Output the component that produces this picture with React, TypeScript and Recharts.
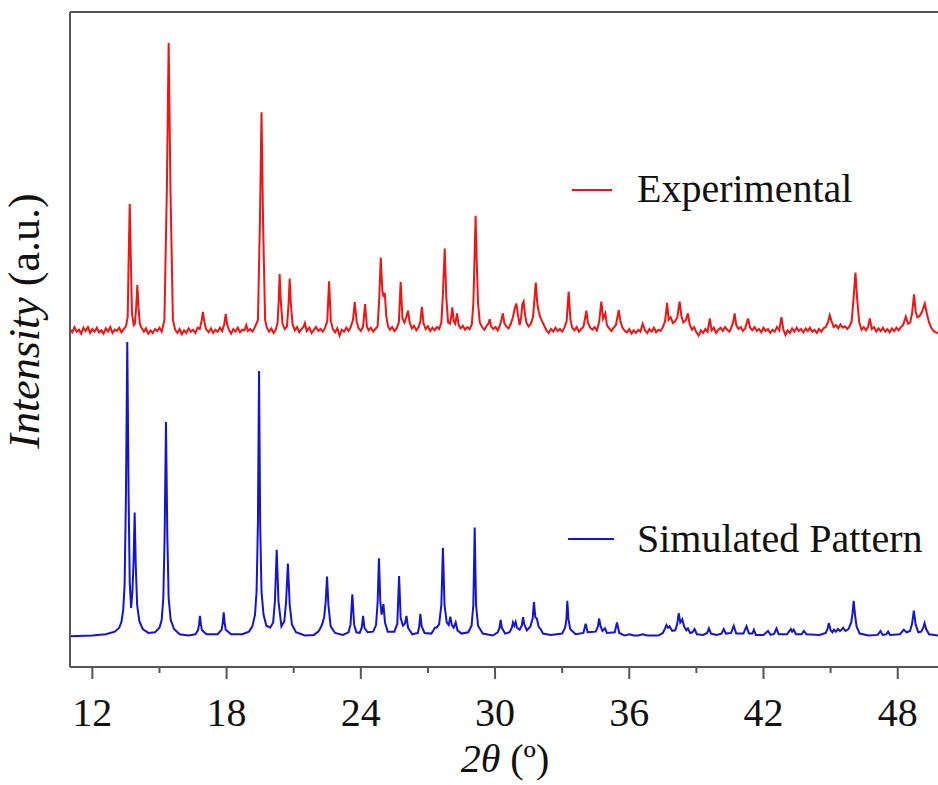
import { LineChart, Line, XAxis, YAxis, ReferenceLine } from "recharts";

// 2θ (deg), intensity (a.u., offset so both patterns share one axis)
const EXPERIMENTAL: [number, number][] = [
  [11.0, 51.6], [11.1, 51.1], [11.2, 51.9], [11.3, 51.2], [11.4, 51.5], [11.5, 50.9], [11.6, 51.8], [11.7, 51.3],
  [11.8, 51.9], [11.9, 51.0], [12.0, 51.6], [12.1, 51.2], [12.2, 51.8], [12.3, 51.1], [12.4, 51.4], [12.5, 50.9],
  [12.6, 51.7], [12.7, 51.2], [12.8, 51.9], [12.9, 51.0], [13.0, 51.5], [13.1, 51.3], [13.2, 51.8], [13.3, 51.1],
  [13.4, 51.6], [13.5, 52.0], [13.58, 53.5], [13.62, 62.0], [13.67, 70.7], [13.72, 62.0], [13.77, 54.0],
  [13.85, 52.2], [13.9, 52.4], [13.96, 55.0], [14.01, 58.3], [14.06, 55.0], [14.12, 52.4], [14.2, 51.8],
  [14.3, 51.2], [14.4, 51.7], [14.5, 50.9], [14.6, 51.4], [14.7, 51.0], [14.8, 51.6], [14.9, 51.3], [15.0, 51.8],
  [15.1, 51.2], [15.22, 53.0], [15.33, 73.0], [15.41, 95.3], [15.49, 73.0], [15.6, 53.0], [15.7, 51.5],
  [15.8, 51.0], [15.9, 51.6], [16.0, 50.8], [16.1, 51.4], [16.2, 51.0], [16.3, 51.7], [16.4, 51.2], [16.5, 51.5],
  [16.6, 51.0], [16.7, 51.8], [16.8, 51.6], [16.88, 52.8], [16.94, 54.2], [17.0, 52.8], [17.08, 51.6],
  [17.2, 51.1], [17.3, 51.7], [17.4, 51.0], [17.5, 51.5], [17.6, 51.2], [17.7, 51.8], [17.8, 51.3], [17.9, 52.4],
  [17.96, 53.9], [18.02, 52.4], [18.1, 51.5], [18.2, 50.9], [18.3, 51.6], [18.4, 51.2], [18.5, 51.8],
  [18.6, 51.1], [18.7, 51.5], [18.8, 51.4], [18.88, 52.2], [18.95, 51.3], [19.05, 51.6], [19.15, 51.2],
  [19.25, 51.8], [19.33, 52.4], [19.4, 53.0], [19.49, 68.0], [19.56, 84.7], [19.63, 68.0], [19.72, 53.0],
  [19.8, 51.8], [19.9, 51.2], [20.0, 51.7], [20.1, 51.0], [20.2, 51.5], [20.28, 52.6], [20.33, 56.0],
  [20.37, 60.0], [20.42, 56.0], [20.5, 52.4], [20.6, 51.6], [20.7, 52.0], [20.77, 55.5], [20.82, 59.3],
  [20.87, 55.5], [20.95, 52.3], [21.05, 51.4], [21.15, 51.9], [21.25, 51.1], [21.35, 51.6], [21.45, 52.0],
  [21.5, 52.5], [21.58, 51.3], [21.7, 51.8], [21.8, 51.0], [21.9, 51.5], [22.0, 51.9], [22.1, 51.3],
  [22.2, 51.6], [22.3, 51.2], [22.4, 51.8], [22.5, 52.8], [22.58, 58.9], [22.66, 52.8], [22.75, 51.6],
  [22.85, 51.1], [22.95, 51.7], [23.05, 50.6], [23.15, 51.5], [23.25, 51.2], [23.35, 51.8], [23.45, 51.3],
  [23.55, 51.9], [23.65, 53.0], [23.73, 55.7], [23.81, 52.8], [23.9, 51.7], [24.0, 51.3], [24.1, 52.0],
  [24.19, 55.4], [24.27, 52.0], [24.35, 51.4], [24.45, 51.8], [24.55, 51.2], [24.65, 51.6], [24.75, 52.0],
  [24.82, 56.0], [24.89, 62.5], [24.96, 57.5], [25.02, 56.5], [25.07, 57.1], [25.14, 53.5], [25.22, 52.0],
  [25.3, 51.5], [25.4, 51.9], [25.5, 51.3], [25.6, 51.7], [25.7, 52.6], [25.78, 58.8], [25.86, 53.2],
  [25.95, 52.6], [26.03, 53.4], [26.11, 54.4], [26.18, 52.6], [26.28, 51.7], [26.38, 52.1], [26.48, 51.4],
  [26.58, 51.9], [26.66, 52.7], [26.73, 55.0], [26.8, 52.5], [26.9, 51.6], [27.0, 52.0], [27.1, 51.3],
  [27.2, 51.8], [27.3, 51.4], [27.4, 51.9], [27.5, 51.6], [27.6, 52.6], [27.67, 57.0], [27.75, 63.9],
  [27.82, 56.5], [27.9, 52.6], [27.98, 52.4], [28.04, 53.5], [28.09, 54.9], [28.15, 52.8], [28.22, 52.4],
  [28.3, 54.0], [28.37, 52.2], [28.46, 51.7], [28.56, 52.1], [28.66, 51.5], [28.76, 51.9], [28.86, 51.6],
  [28.96, 52.3], [29.03, 55.5], [29.08, 62.0], [29.13, 68.9], [29.18, 62.0], [29.24, 55.5], [29.32, 52.6],
  [29.42, 51.9], [29.52, 51.5], [29.62, 52.1], [29.7, 52.4], [29.76, 53.1], [29.82, 52.0], [29.92, 51.6],
  [30.02, 51.9], [30.12, 51.4], [30.22, 52.2], [30.3, 53.2], [30.35, 54.0], [30.41, 52.6], [30.5, 52.0],
  [30.6, 51.7], [30.7, 52.4], [30.8, 53.4], [30.88, 54.8], [30.95, 55.5], [31.03, 53.6], [31.1, 52.2],
  [31.17, 53.5], [31.22, 55.4], [31.28, 55.8], [31.34, 53.8], [31.4, 52.6], [31.5, 52.0], [31.6, 52.4],
  [31.7, 53.5], [31.77, 56.5], [31.82, 58.7], [31.88, 55.8], [31.93, 54.6], [32.0, 53.6], [32.1, 52.8],
  [32.2, 52.1], [32.3, 51.4], [32.4, 51.0], [32.5, 51.6], [32.6, 51.2], [32.7, 51.8], [32.8, 51.3],
  [32.9, 51.6], [33.0, 51.2], [33.1, 51.8], [33.2, 52.8], [33.29, 57.3], [33.37, 53.0], [33.45, 51.8],
  [33.55, 51.4], [33.65, 51.9], [33.75, 51.2], [33.85, 51.6], [33.95, 51.9], [34.02, 53.2], [34.08, 54.4],
  [34.15, 52.6], [34.25, 51.8], [34.35, 51.5], [34.45, 51.9], [34.55, 51.4], [34.65, 52.6], [34.75, 55.8],
  [34.83, 53.2], [34.93, 54.0], [35.0, 52.2], [35.1, 51.7], [35.2, 51.3], [35.3, 51.8], [35.4, 52.2],
  [35.47, 53.4], [35.53, 54.5], [35.6, 52.8], [35.7, 51.8], [35.8, 51.3], [35.9, 51.1], [36.0, 51.6],
  [36.1, 50.9], [36.2, 51.4], [36.3, 51.0], [36.4, 51.5], [36.5, 51.2], [36.6, 52.4], [36.7, 51.4],
  [36.8, 51.0], [36.9, 51.6], [37.0, 51.2], [37.1, 51.8], [37.2, 51.1], [37.3, 51.5], [37.4, 51.3],
  [37.5, 51.9], [37.6, 52.8], [37.69, 55.6], [37.76, 53.0], [37.85, 53.4], [37.95, 52.5], [38.05, 52.8],
  [38.15, 53.4], [38.25, 55.8], [38.33, 53.6], [38.42, 52.6], [38.52, 52.9], [38.62, 54.0], [38.7, 52.3],
  [38.8, 51.5], [38.9, 51.9], [39.0, 51.1], [39.1, 50.6], [39.2, 51.4], [39.3, 51.0], [39.4, 51.6],
  [39.5, 51.2], [39.6, 53.2], [39.68, 51.4], [39.78, 51.8], [39.88, 51.0], [39.98, 51.5], [40.08, 51.8],
  [40.18, 51.3], [40.28, 51.9], [40.38, 51.5], [40.48, 51.2], [40.58, 52.0], [40.65, 52.8], [40.71, 54.0],
  [40.78, 52.2], [40.88, 51.6], [40.98, 51.9], [41.08, 51.3], [41.18, 51.7], [41.31, 53.2], [41.4, 51.8],
  [41.5, 51.4], [41.6, 51.9], [41.7, 51.3], [41.8, 51.6], [41.9, 51.1], [42.0, 51.8], [42.1, 51.3],
  [42.2, 51.6], [42.3, 51.0], [42.4, 51.5], [42.5, 51.2], [42.6, 51.9], [42.7, 51.4], [42.8, 53.4],
  [42.88, 51.6], [42.98, 50.7], [43.08, 51.4], [43.18, 51.0], [43.28, 51.7], [43.38, 51.2], [43.48, 51.8],
  [43.58, 51.3], [43.68, 51.6], [43.78, 51.1], [43.88, 51.7], [43.98, 51.3], [44.08, 51.8], [44.18, 51.2],
  [44.28, 51.5], [44.38, 51.0], [44.48, 51.6], [44.58, 51.2], [44.68, 51.7], [44.78, 51.9], [44.88, 52.6],
  [44.96, 53.7], [45.04, 52.8], [45.14, 51.9], [45.24, 52.2], [45.34, 51.7], [45.44, 52.3], [45.54, 51.8],
  [45.64, 52.0], [45.74, 51.6], [45.84, 52.0], [45.94, 52.8], [46.02, 56.0], [46.11, 60.2], [46.19, 56.0],
  [46.28, 52.6], [46.38, 51.5], [46.48, 51.9], [46.58, 51.4], [46.68, 52.0], [46.75, 53.2], [46.84, 51.6],
  [46.94, 51.9], [47.04, 51.2], [47.14, 51.7], [47.24, 51.3], [47.34, 51.8], [47.44, 51.2], [47.54, 51.6],
  [47.64, 51.1], [47.74, 51.7], [47.84, 51.3], [47.94, 51.8], [48.04, 51.4], [48.14, 51.9], [48.24, 52.2],
  [48.36, 53.5], [48.46, 52.4], [48.56, 52.6], [48.64, 54.0], [48.73, 56.9], [48.8, 54.3], [48.88, 53.4],
  [48.98, 53.6], [49.08, 54.2], [49.21, 55.5], [49.3, 54.0], [49.4, 52.6], [49.5, 51.8], [49.6, 51.3],
  [49.7, 51.1], [49.8, 51.0],
];

const SIMULATED: [number, number][] = [
  [11.0, 4.7], [12.0, 4.8], [12.6, 5.0], [13.0, 5.4], [13.2, 6.0], [13.3, 6.9], [13.38, 8.8], [13.44, 12.5],
  [13.5, 26.0], [13.56, 49.6], [13.62, 26.0], [13.67, 13.0], [13.73, 9.0], [13.79, 11.5], [13.84, 16.0],
  [13.89, 23.6], [13.94, 15.5], [14.0, 9.5], [14.1, 7.0], [14.25, 5.8], [14.5, 5.2], [14.8, 5.3], [15.0, 6.0],
  [15.1, 7.2], [15.17, 10.5], [15.23, 20.0], [15.29, 37.4], [15.35, 20.0], [15.41, 10.5], [15.5, 7.2],
  [15.65, 5.8], [15.9, 5.0], [16.3, 4.8], [16.6, 5.0], [16.72, 5.6], [16.77, 6.5], [16.81, 7.8], [16.85, 6.5],
  [16.9, 5.6], [17.1, 5.0], [17.6, 5.0], [17.78, 5.7], [17.83, 6.8], [17.87, 8.35], [17.91, 6.8], [17.96, 5.7],
  [18.2, 5.0], [18.7, 5.0], [19.0, 5.4], [19.15, 6.2], [19.27, 8.0], [19.34, 11.5], [19.4, 22.0], [19.45, 45.2],
  [19.5, 22.0], [19.56, 11.5], [19.65, 8.0], [19.78, 6.3], [19.95, 6.0], [20.08, 6.8], [20.16, 10.0],
  [20.24, 17.9], [20.32, 10.0], [20.45, 6.2], [20.58, 7.0], [20.66, 10.0], [20.74, 15.8], [20.82, 9.5],
  [20.92, 6.5], [21.1, 5.3], [21.5, 4.8], [21.9, 4.9], [22.1, 5.4], [22.2, 6.0], [22.28, 6.6], [22.36, 7.6],
  [22.43, 10.0], [22.49, 13.8], [22.55, 9.5], [22.65, 6.2], [22.85, 5.2], [23.2, 4.9], [23.45, 5.3],
  [23.54, 6.5], [23.62, 11.1], [23.7, 6.5], [23.8, 5.3], [23.95, 5.2], [24.04, 6.0], [24.1, 7.8], [24.16, 6.0],
  [24.3, 5.3], [24.55, 5.4], [24.68, 6.4], [24.75, 9.8], [24.81, 16.6], [24.87, 10.0], [24.93, 8.0],
  [25.01, 9.6], [25.08, 6.8], [25.2, 5.4], [25.5, 5.4], [25.63, 6.6], [25.71, 13.9], [25.78, 7.5],
  [25.88, 6.3], [25.97, 6.6], [26.04, 7.8], [26.11, 6.0], [26.3, 5.0], [26.55, 5.2], [26.61, 6.2],
  [26.66, 8.1], [26.72, 6.2], [26.85, 5.2], [27.15, 5.1], [27.25, 5.6], [27.3, 6.0], [27.38, 6.0],
  [27.5, 6.5], [27.6, 9.5], [27.67, 18.2], [27.74, 9.5], [27.84, 6.8], [27.93, 6.4], [28.0, 7.7],
  [28.07, 6.4], [28.15, 6.0], [28.24, 6.8], [28.32, 5.6], [28.5, 5.1], [28.8, 5.3], [28.95, 6.3],
  [29.03, 9.5], [29.09, 21.3], [29.15, 9.5], [29.24, 6.3], [29.45, 5.1], [29.9, 4.8], [30.12, 5.3],
  [30.2, 6.0], [30.25, 7.2], [30.3, 6.0], [30.45, 5.1], [30.65, 5.3], [30.75, 6.0], [30.8, 6.8], [30.86, 6.3],
  [30.92, 6.9], [30.98, 6.0], [31.1, 5.7], [31.2, 6.4], [31.25, 7.6], [31.3, 6.6], [31.42, 5.6], [31.58, 6.2],
  [31.68, 7.4], [31.74, 9.9], [31.8, 7.6], [31.87, 7.4], [31.95, 6.1], [32.04, 5.8], [32.14, 5.1],
  [32.5, 4.9], [33.0, 5.1], [33.13, 6.0], [33.19, 7.3], [33.23, 10.1], [33.28, 7.3], [33.36, 5.8],
  [33.6, 5.0], [33.95, 5.2], [34.05, 6.6], [34.14, 5.3], [34.5, 5.4], [34.6, 6.2], [34.65, 7.4], [34.72, 6.2],
  [34.8, 5.5], [34.91, 5.9], [35.0, 5.2], [35.35, 5.3], [35.45, 6.8], [35.55, 5.2], [35.8, 4.8], [36.02, 5.0],
  [36.2, 4.8], [36.4, 4.8], [36.6, 5.0], [36.8, 4.8], [37.3, 4.8], [37.5, 5.2], [37.6, 5.9], [37.66, 6.4],
  [37.73, 6.0], [37.8, 6.2], [37.92, 5.5], [38.05, 5.6], [38.14, 6.5], [38.21, 8.2], [38.28, 6.8],
  [38.37, 7.3], [38.45, 6.2], [38.55, 5.6], [38.62, 5.9], [38.72, 5.2], [38.82, 5.3], [38.92, 5.8],
  [39.02, 5.0], [39.3, 4.9], [39.48, 5.2], [39.56, 5.9], [39.65, 5.1], [39.9, 4.9], [40.12, 5.1],
  [40.22, 5.8], [40.32, 5.1], [40.55, 5.2], [40.67, 6.3], [40.78, 5.1], [41.1, 5.1], [41.24, 6.2],
  [41.35, 5.1], [41.5, 5.1], [41.57, 5.7], [41.66, 4.9], [42.0, 4.9], [42.2, 5.5], [42.32, 4.9],
  [42.48, 5.1], [42.58, 5.9], [42.68, 5.0], [43.05, 5.0], [43.16, 5.5], [43.22, 5.8], [43.28, 5.4],
  [43.35, 5.7], [43.45, 5.0], [43.7, 5.0], [43.8, 5.5], [43.92, 5.0], [44.5, 4.9], [44.78, 5.2],
  [44.86, 5.8], [44.92, 6.7], [45.0, 5.6], [45.08, 5.3], [45.15, 5.7], [45.23, 5.4], [45.33, 5.8],
  [45.42, 5.5], [45.5, 5.7], [45.56, 6.0], [45.66, 5.5], [45.8, 5.8], [45.92, 6.8], [45.98, 8.2],
  [46.03, 10.1], [46.09, 8.0], [46.16, 6.2], [46.3, 5.1], [46.7, 4.8], [47.1, 4.9], [47.23, 5.5],
  [47.33, 4.9], [47.48, 5.0], [47.57, 5.4], [47.66, 4.9], [48.1, 5.0], [48.27, 5.7], [48.4, 5.3],
  [48.55, 5.5], [48.64, 6.6], [48.72, 8.6], [48.8, 6.5], [48.92, 5.3], [49.05, 5.4], [49.14, 6.0],
  [49.2, 6.7], [49.27, 5.8], [49.4, 5.0], [49.8, 4.8],
];

const MAJOR_TICKS = [12, 18, 24, 30, 36, 42, 48];
const MINOR_TICKS = [15, 21, 27, 33, 39, 45];

const RED = "#f01414";
const BLUE = "#1414d2";
const FRAME = "#555";
const FONT = "Liberation Serif";

const expData = EXPERIMENTAL.map(([theta, intensity]) => ({ theta, intensity }));
const simData = SIMULATED.map(([theta, intensity]) => ({ theta, intensity }));
const allTicks = [...MAJOR_TICKS, ...MINOR_TICKS].sort((a, b) => a - b);

function AxisTick({ x, y, payload }: any) {
  const major = MAJOR_TICKS.includes(payload.value);
  return (
    <g>
      <line x1={x} x2={x} y1={y} y2={y + (major ? 12 : 6)} stroke={FRAME} strokeWidth={2} />
      {major && (
        <text x={x} y={y + 59} textAnchor="middle" fontSize={40} fontFamily={FONT} fill="#111">
          {payload.value}
        </text>
      )}
    </g>
  );
}

function XLabel() {
  return (
    <text x={505} y={772} textAnchor="middle" fontSize={40} fontFamily={FONT} fill="#111">
      <tspan fontStyle="italic">2θ</tspan>
      <tspan> (º)</tspan>
    </text>
  );
}

function YLabel() {
  return (
    <text transform="translate(39, 321) rotate(-90)" textAnchor="middle" fontSize={44} fontFamily={FONT} fill="#111">
      <tspan fontStyle="italic">Intensity</tspan>
      <tspan> (a.u.)</tspan>
    </text>
  );
}

const legendRows = [
  { name: "Experimental", color: RED, top: 169, lineY: 190, x1: 572, x2: 612 },
  { name: "Simulated Pattern", color: BLUE, top: 519, lineY: 539, x1: 568, x2: 614 },
];

export default function App() {
  return (
    <div style={{ position: "relative", width: 938, height: 785 }}>
      <style>{"body{margin:0;overflow:hidden}"}</style>
      <LineChart width={938} height={785} margin={{ top: 12, right: 0, bottom: 0, left: 0 }}>
        <XAxis
          dataKey="theta"
          type="number"
          domain={[11, 49.8]}
          allowDataOverflow
          ticks={allTicks}
          interval={0}
          tickLine={false}
          tickSize={0}
          tickMargin={0}
          tick={<AxisTick />}
          axisLine={{ stroke: FRAME, strokeWidth: 2 }}
          height={118}
          label={{ content: <XLabel /> }}
        />
        <YAxis
          type="number"
          domain={[0, 100]}
          allowDataOverflow
          tick={false}
          tickLine={false}
          width={70}
          axisLine={{ stroke: FRAME, strokeWidth: 2 }}
          label={{ content: <YLabel /> }}
        />
        <ReferenceLine y={100} stroke={FRAME} strokeWidth={2} />
        <Line
          data={expData}
          dataKey="intensity"
          type="linear"
          stroke={RED}
          strokeWidth={2}
          dot={false}
          activeDot={false}
          isAnimationActive={false}
        />
        <Line
          data={simData}
          dataKey="intensity"
          type="linear"
          stroke={BLUE}
          strokeWidth={2}
          dot={false}
          activeDot={false}
          isAnimationActive={false}
        />
      </LineChart>
      {legendRows.map((r) => (
        <div key={r.name}>
          <div
            style={{
              position: "absolute",
              left: r.x1,
              top: r.lineY - 1,
              width: r.x2 - r.x1,
              height: 2,
              background: r.color,
            }}
          />
          <div
            style={{
              position: "absolute",
              left: 637,
              top: r.top,
              fontFamily: FONT,
              fontSize: 40,
              lineHeight: "40px",
              color: "#111",
              whiteSpace: "nowrap",
            }}
          >
            {r.name}
          </div>
        </div>
      ))}
    </div>
  );
}
